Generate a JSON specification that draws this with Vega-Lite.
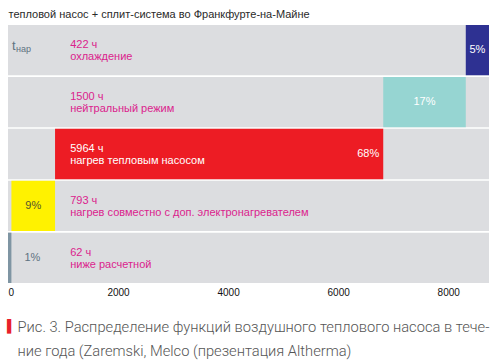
{
  "$schema": "https://vega.github.io/schema/vega-lite/v6.json",
  "width": 481,
  "height": 258,
  "autosize": "none",
  "padding": {"left": 8, "top": 25, "right": 9, "bottom": 78},
  "background": "white",
  "config": {"view": {"stroke": null}, "font": "Liberation Sans"},
  "title": {
    "text": "▌",
    "orient": "bottom",
    "anchor": "start",
    "frame": "group",
    "color": "#e8202a",
    "fontSize": 12,
    "fontWeight": "normal",
    "dx": -1,
    "dy": -41
  },
  "data": {
    "values": [
      {"row": "r1", "name": "охлаждение", "start": 8319, "end": 8741, "hours": "422 ч", "pct": "5%"},
      {"row": "r2", "name": "нейтральный режим", "start": 6819, "end": 8319, "hours": "1500 ч", "pct": "17%"},
      {"row": "r3", "name": "нагрев тепловым насосом", "start": 855, "end": 6819, "hours": "5964 ч", "pct": "68%"},
      {"row": "r4", "name": "нагрев совместно с доп. электронагревателем", "start": 62, "end": 855, "hours": "793 ч", "pct": "9%"},
      {"row": "r5", "name": "ниже расчетной", "start": 0, "end": 62, "hours": "62 ч", "pct": "1%"}
    ]
  },
  "encoding": {
    "y": {
      "field": "row",
      "type": "nominal",
      "scale": {"domain": ["r1", "r2", "r3", "r4", "r5"], "paddingInner": 0.03, "paddingOuter": 0},
      "axis": {
        "labels": false, "ticks": false, "domain": false,
        "title": "тепловой насос + сплит-система во Франкфурте-на-Майне",
        "titleAngle": 0, "titleAlign": "left", "titleBaseline": "alphabetic",
        "titleX": 0, "titleY": -8, "titleFontSize": 11, "titleFontWeight": "normal",
        "titleColor": "#2a2a2a", "titleFont": "Liberation Sans"
      }
    }
  },
  "layer": [
    {
      "mark": {"type": "rect", "color": "#dcdde0"},
      "encoding": {"x": {"value": 0}, "x2": {"value": "width"}}
    },
    {
      "mark": {"type": "rect"},
      "encoding": {
        "x": {
          "field": "start", "type": "quantitative",
          "scale": {"domain": [0, 8741], "nice": false},
          "axis": {
            "values": [0, 2000, 4000, 6000, 8000], "format": "d",
            "grid": false, "domain": false,
            "tickColor": "white", "tickSize": -4, "tickWidth": 1.2,
            "labelFontSize": 10, "labelColor": "#111111", "labelPadding": 8,
            "labelFont": "Liberation Sans",
            "title": ["Рис. 3. Распределение функций воздушного теплового насоса в тече-", "ние года (Zaremski, Melco (презентация Altherma)"],
            "titleAnchor": "start", "titleAlign": "left", "titleBaseline": "alphabetic",
            "titleX": 9, "titleY": 48, "titleLineHeight": 24,
            "titleFontSize": 14.7, "titleFontWeight": 300, "titleColor": "#555555",
            "titleFont": "Roboto"
          }
        },
        "x2": {"field": "end"},
        "color": {
          "field": "row", "type": "nominal", "legend": null,
          "scale": {"domain": ["r1", "r2", "r3", "r4", "r5"], "range": ["#2e3192", "#96d5d2", "#ed1c24", "#fff200", "#7f95a3"]}
        }
      }
    },
    {
      "mark": {"type": "text", "align": "left", "baseline": "middle", "dy": -5, "fontSize": 11},
      "encoding": {
        "x": {"datum": 1130}, "text": {"field": "hours"},
        "color": {"condition": {"test": "datum.row == 'r3'", "value": "white"}, "value": "#db238d"}
      }
    },
    {
      "mark": {"type": "text", "align": "left", "baseline": "middle", "dy": 7, "fontSize": 11},
      "encoding": {
        "x": {"datum": 1130}, "text": {"field": "name"},
        "color": {"condition": {"test": "datum.row == 'r3'", "value": "white"}, "value": "#db238d"}
      }
    },
    {
      "transform": [{"filter": "datum.row == 'r1' || datum.row == 'r2'"}, {"calculate": "(datum.start + datum.end) / 2", "as": "mid"}],
      "mark": {"type": "text", "align": "center", "baseline": "middle", "fontSize": 11, "color": "white"},
      "encoding": {"x": {"field": "mid", "type": "quantitative"}, "text": {"field": "pct"}}
    },
    {
      "transform": [{"filter": "datum.row == 'r4'"}, {"calculate": "(datum.start + datum.end) / 2", "as": "mid"}],
      "mark": {"type": "text", "align": "center", "baseline": "middle", "fontSize": 11, "color": "#55552e"},
      "encoding": {"x": {"field": "mid", "type": "quantitative"}, "text": {"field": "pct"}}
    },
    {
      "transform": [{"filter": "datum.row == 'r3'"}],
      "mark": {"type": "text", "align": "right", "baseline": "middle", "dx": -4, "fontSize": 11, "color": "white"},
      "encoding": {"x": {"field": "end", "type": "quantitative"}, "text": {"field": "pct"}}
    },
    {
      "transform": [{"filter": "datum.row == 'r5'"}],
      "mark": {"type": "text", "align": "left", "baseline": "middle", "dx": 13, "fontSize": 11, "color": "#5f7281"},
      "encoding": {"x": {"field": "end", "type": "quantitative"}, "text": {"field": "pct"}}
    },
    {
      "transform": [{"filter": "datum.row == 'r1'"}],
      "mark": {"type": "text", "align": "left", "baseline": "alphabetic", "dx": 4, "dy": 0, "fontSize": 13, "color": "#5f7281", "text": "t"},
      "encoding": {"x": {"datum": 0}}
    },
    {
      "transform": [{"filter": "datum.row == 'r1'"}],
      "mark": {"type": "text", "align": "left", "baseline": "alphabetic", "dx": 8, "dy": 2, "fontSize": 9, "color": "#5f7281", "text": "нар"},
      "encoding": {"x": {"datum": 0}}
    }
  ]
}
